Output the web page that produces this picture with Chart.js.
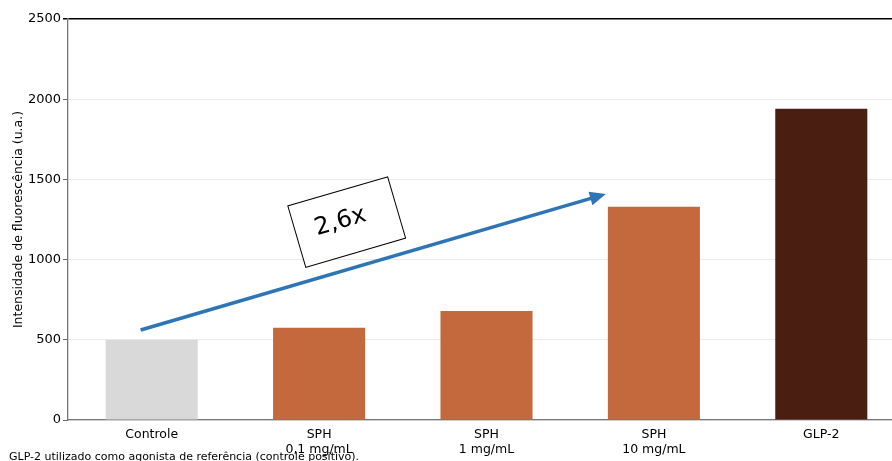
<!DOCTYPE html>
<html>
<head>
<meta charset="utf-8">
<script src="https://cdn.jsdelivr.net/npm/chart.js@4"></script>
<style>
  html, body { margin: 0; padding: 0; background: #fff; overflow: hidden; }
  #wrap { position: relative; width: 906px; height: 461px; }
  #myChart { position: absolute; left: 1px; top: 1px; }
  #note { position: absolute; left: 9px; top: 450px; font: 11px "DejaVu Sans", sans-serif; color: #000; white-space: nowrap; }
</style>
</head>
<body>
<div id="wrap">
  <canvas id="myChart" width="904" height="461"></canvas>
  <div id="note">GLP-2 utilizado como agonista de referência (controle positivo).</div>
</div>
<script>
// categories and values
const categories = ['Controle', ['SPH', '0,1 mg/mL'], ['SPH', '1 mg/mL'], ['SPH', '10 mg/mL'], 'GLP-2'];
const intensity = [500, 575, 680, 1330, 1940];
const bar_colors = ['#d9d9d9', '#c4693d', '#c4693d', '#c4693d', '#4a1e10'];
const y_ticks = [0, 500, 1000, 1500, 2000, 2500];

// trend arrow (x in category index units, y in data units)
const arrow_x = [-0.066, 2.713];
const arrow_y = [561, 1409];
const fold_label = '2,6x';
const fold_pos = [1.165, 1234];

const arrowPlugin = {
    id: 'arrow',
    afterDatasetsDraw(chart) {
        const c = chart.ctx;
        const x = chart.scales.x, y = chart.scales.y;
        const x0 = x.getPixelForValue(arrow_x[0]), y0 = y.getPixelForValue(arrow_y[0]);
        const x1 = x.getPixelForValue(arrow_x[1]), y1 = y.getPixelForValue(arrow_y[1]);
        const ang = Math.atan2(y1 - y0, x1 - x0);
        c.save();
        c.strokeStyle = '#2e75b6';
        c.fillStyle = '#2e75b6';
        c.lineWidth = 3.5;
        // shaft stops before the head
        c.beginPath();
        c.moveTo(x0, y0);
        c.lineTo(x1 - 12 * Math.cos(ang), y1 - 12 * Math.sin(ang));
        c.stroke();
        // head
        c.beginPath();
        c.moveTo(x1, y1);
        c.lineTo(x1 - 16 * Math.cos(ang) + 7 * Math.sin(ang), y1 - 16 * Math.sin(ang) - 7 * Math.cos(ang));
        c.lineTo(x1 - 16 * Math.cos(ang) - 7 * Math.sin(ang), y1 - 16 * Math.sin(ang) + 7 * Math.cos(ang));
        c.closePath();
        c.fill();

        // rotated label box
        const cx = x.getPixelForValue(fold_pos[0]), cy = y.getPixelForValue(fold_pos[1]);
        c.translate(cx, cy);
        c.rotate(ang);
        c.fillStyle = '#fff';
        c.strokeStyle = '#000';
        c.lineWidth = 1;
        c.fillRect(-52, -32, 104, 64);
        c.strokeRect(-52, -32, 104, 64);
        c.fillStyle = '#000';
        c.font = '24px "DejaVu Sans", sans-serif';
        c.textAlign = 'center';
        c.textBaseline = 'middle';
        c.fillText(fold_label, -6, -2);
        c.restore();
    }
};

var ctx = document.getElementById('myChart').getContext('2d');
var chart = new Chart(ctx, {
    type: 'bar',
    data: {
        labels: categories,
        datasets: [{
            data: intensity,
            backgroundColor: bar_colors,
            borderColor: bar_colors,
            borderWidth: 0,
            barPercentage: 0.55,
            categoryPercentage: 1.0
        }]
    },
    options: {
        responsive: false,
        animation: false,
        devicePixelRatio: 1,
        layout: { padding: { top: 18, right: 0, left: 0, bottom: 0 } },
        plugins: { legend: { display: false }, tooltip: { enabled: false } },
        scales: {
            x: {
                grid: { display: false, drawTicks: true, tickLength: 4, tickColor: '#666' },
                border: { color: '#777', width: 1.3 },
                ticks: { color: '#000', font: { family: 'DejaVu Sans', size: 12.5 }, padding: 3, maxRotation: 0, autoSkip: false },
                afterFit(scale) { scale.height = 42; }
            },
            y: {
                min: 0,
                max: 2500,
                afterBuildTicks(scale) { scale.ticks = y_ticks.map(v => ({ value: v })); },
                grid: {
                    color: (c) => c.tick && c.tick.value === 2500 ? '#000' : '#ebebeb',
                    lineWidth: (c) => c.tick && c.tick.value === 2500 ? 1.5 : 1,
                    tickColor: (c) => c.tick && c.tick.value === 2500 ? '#000' : '#666',
                    tickLength: 5
                },
                border: { color: '#777', width: 1.3 },
                ticks: {
                    color: '#000',
                    font: { family: 'DejaVu Sans', size: 13 },
                    padding: 2,
                    callback: (v) => String(v)
                },
                title: {
                    display: true,
                    text: 'Intensidade de fluorescência (u.a.)',
                    color: '#000',
                    font: { family: 'DejaVu Sans', size: 12.5 },
                    padding: { top: 10, bottom: 0 }
                },
                afterFit(scale) { scale.width = 67; }
            }
        }
    },
    plugins: [arrowPlugin]
});
</script>
</body>
</html>
